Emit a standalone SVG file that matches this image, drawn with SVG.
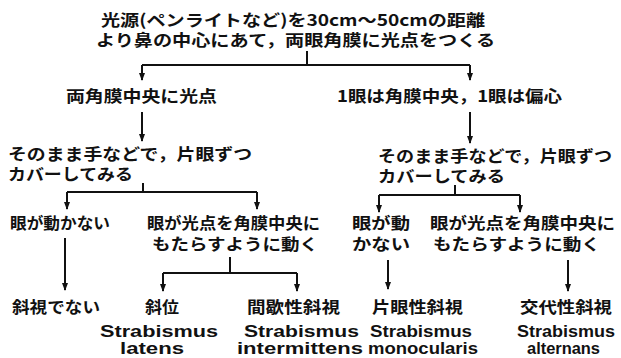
<svg xmlns="http://www.w3.org/2000/svg" width="621" height="358" viewBox="0 0 621 358">
<style>
.jp{font-family:"Noto Sans CJK JP","Noto Sans CJK SC",sans-serif;font-size:16px;font-weight:700;fill:#111}
.en{font-family:"Liberation Sans Narrow","Liberation Sans",Arial,sans-serif;font-size:16px;font-weight:700;fill:#111}
.ln{stroke:#111;stroke-width:2;fill:none}
.ar{stroke:#111;stroke-width:2;fill:none;marker-end:url(#ah)}
</style>
<defs>
<marker id="ah" viewBox="0 0 8 6" refX="7" refY="3" markerWidth="8" markerHeight="6" markerUnits="userSpaceOnUse" orient="auto">
<path d="M0,0 L8,3 L0,6 z" fill="#111"/>
</marker>
</defs>
<rect width="621" height="358" fill="#fff"/>
<g id="n_start">
<text class="jp" x="101" y="26" textLength="384" lengthAdjust="spacingAndGlyphs">光源(ペンライトなど)を30cm～50cmの距離</text>
<text class="jp" x="96" y="46" textLength="399" lengthAdjust="spacingAndGlyphs">より鼻の中心にあて，両眼角膜に光点をつくる</text>
</g>
<g id="n_both">
<text class="jp" x="66" y="102" textLength="151" lengthAdjust="spacingAndGlyphs">両角膜中央に光点</text>
</g>
<g id="n_one">
<text class="jp" x="337" y="102" textLength="225" lengthAdjust="spacingAndGlyphs">1眼は角膜中央，1眼は偏心</text>
</g>
<g id="n_coverL">
<text class="jp" x="8" y="160" textLength="244" lengthAdjust="spacingAndGlyphs">そのまま手などで，片眼ずつ</text>
<text class="jp" x="8" y="180" textLength="125" lengthAdjust="spacingAndGlyphs">カバーしてみる</text>
</g>
<g id="n_coverR">
<text class="jp" x="378" y="162" textLength="234" lengthAdjust="spacingAndGlyphs">そのまま手などで，片眼ずつ</text>
<text class="jp" x="378" y="182" textLength="127" lengthAdjust="spacingAndGlyphs">カバーしてみる</text>
</g>
<g id="n_nomoveL">
<text class="jp" x="10" y="229" textLength="100" lengthAdjust="spacingAndGlyphs">眼が動かない</text>
</g>
<g id="n_moveL">
<text class="jp" x="147" y="229" textLength="173" lengthAdjust="spacingAndGlyphs">眼が光点を角膜中央に</text>
<text class="jp" x="152" y="250" textLength="166" lengthAdjust="spacingAndGlyphs">もたらすように動く</text>
</g>
<g id="n_nomoveR">
<text class="jp" x="352" y="229" textLength="58" lengthAdjust="spacingAndGlyphs">眼が動</text>
<text class="jp" x="352" y="250" textLength="58" lengthAdjust="spacingAndGlyphs">かない</text>
</g>
<g id="n_moveR">
<text class="jp" x="430" y="229" textLength="185" lengthAdjust="spacingAndGlyphs">眼が光点を角膜中央に</text>
<text class="jp" x="433" y="250" textLength="167" lengthAdjust="spacingAndGlyphs">もたらすように動く</text>
</g>
<g id="n_none">
<text class="jp" x="12" y="313" textLength="88" lengthAdjust="spacingAndGlyphs">斜視でない</text>
</g>
<g id="n_latens">
<text class="jp" x="145" y="313" textLength="34" lengthAdjust="spacingAndGlyphs">斜位</text>
<text class="en" x="100" y="337" textLength="118" lengthAdjust="spacingAndGlyphs">Strabismus</text>
<text class="en" x="120" y="354" textLength="64" lengthAdjust="spacingAndGlyphs">latens</text>
</g>
<g id="n_intermittens">
<text class="jp" x="247" y="313" textLength="93" lengthAdjust="spacingAndGlyphs">間歇性斜視</text>
<text class="en" x="244" y="337" textLength="115" lengthAdjust="spacingAndGlyphs">Strabismus</text>
<text class="en" x="237" y="354" textLength="126" lengthAdjust="spacingAndGlyphs">intermittens</text>
</g>
<g id="n_monocularis">
<text class="jp" x="372" y="313" textLength="91" lengthAdjust="spacingAndGlyphs">片眼性斜視</text>
<text class="en" x="370" y="337" textLength="102" lengthAdjust="spacingAndGlyphs">Strabismus</text>
<text class="en" x="368" y="354" textLength="110" lengthAdjust="spacingAndGlyphs">monocularis</text>
</g>
<g id="n_alternans">
<text class="jp" x="520" y="313" textLength="92" lengthAdjust="spacingAndGlyphs">交代性斜視</text>
<text class="en" x="517" y="337" textLength="98" lengthAdjust="spacingAndGlyphs">Strabismus</text>
<text class="en" x="527" y="354" textLength="73" lengthAdjust="spacingAndGlyphs">alternans</text>
</g>
<g id="connectors">
<path class="ln" d="M307,51 V65 M142,65 H470"/>
<path class="ar" d="M142,65 V80"/>
<path class="ar" d="M470,65 V80"/>
<path class="ar" d="M142,112 V141"/>
<path class="ar" d="M470,112 V143"/>
<path class="ln" d="M143,183 V192 M67,192 H257"/>
<path class="ar" d="M67,192 V209"/>
<path class="ar" d="M257,192 V209"/>
<path class="ln" d="M455,185 V195 M379,195 H520"/>
<path class="ar" d="M379,195 V212"/>
<path class="ar" d="M520,195 V212"/>
<path class="ar" d="M65,238 V290"/>
<path class="ln" d="M230,257 V273 M163,273 H297"/>
<path class="ar" d="M163,273 V291"/>
<path class="ar" d="M297,273 V291"/>
<path class="ar" d="M388,260 V289"/>
<path class="ar" d="M568,260 V291"/>
</g>
</svg>
